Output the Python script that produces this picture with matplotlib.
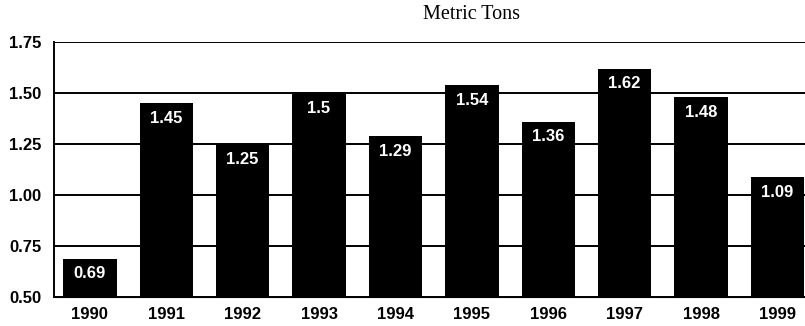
import matplotlib.pyplot as plt
import numpy as np

# Annual totals, metric tons
years = ['1990', '1991', '1992', '1993', '1994', '1995', '1996', '1997', '1998', '1999']
tons = [0.69, 1.45, 1.25, 1.5, 1.29, 1.54, 1.36, 1.62, 1.48, 1.09]
yticks = [0.50, 0.75, 1.00, 1.25, 1.50, 1.75]

plt.rcParams['font.family'] = ['Liberation Sans', 'DejaVu Sans']

fig = plt.figure(figsize=(8.05, 3.26), dpi=100)
ax = fig.add_axes([0.067, 0.088, 0.933, 0.783])

x = np.arange(len(years))
base = yticks[0]
heights = [t - base for t in tons]
bars = ax.bar(x, heights, bottom=base, width=0.7, color='black', zorder=3)

# value labels sit inside the top of each bar
for xi, t in zip(x, tons):
    ax.annotate(f'{t:g}', xy=(xi, t), xytext=(0, -11), textcoords='offset points',
                ha='center', va='center', color='white', fontsize=12,
                fontweight='bold', zorder=4)

ax.set_ylim(yticks[0], yticks[-1])
ax.set_xlim(-0.47, 9.36)
ax.set_yticks(yticks)
ax.set_yticklabels([f'{v:.2f}' for v in yticks], fontsize=12, fontweight='bold')
ax.set_xticks(x)
ax.set_xticklabels(years, fontsize=12, fontweight='bold')
ax.tick_params(axis='y', length=0, pad=9)
ax.tick_params(axis='x', length=0, pad=7)

ax.yaxis.grid(True, color='black', linewidth=1.4, zorder=1)
ax.set_axisbelow(True)
for side in ['top', 'right']:
    ax.spines[side].set_visible(False)
ax.spines['left'].set_linewidth(1.4)
ax.spines['bottom'].set_linewidth(0.8)

fig.text(0.586, 0.955, 'Metric Tons', ha='center', va='center',
         fontsize=14.5, family=['Liberation Serif', 'DejaVu Serif'])

fig.savefig('out.png', dpi=100)
